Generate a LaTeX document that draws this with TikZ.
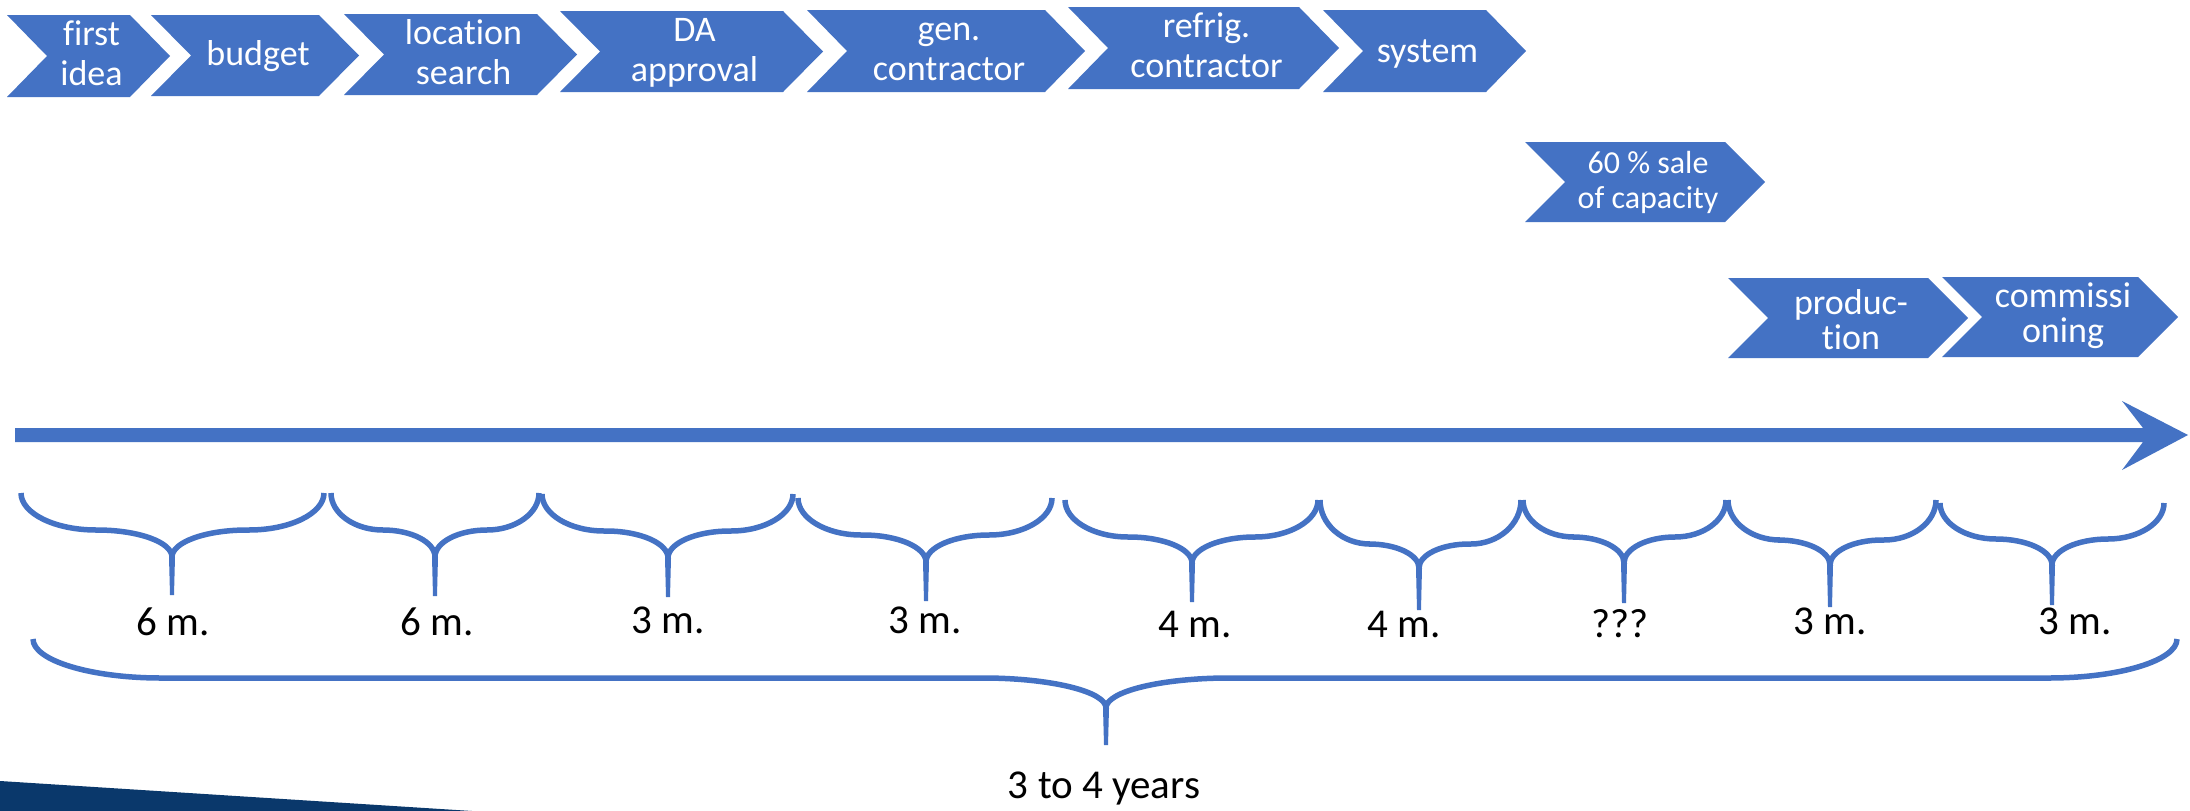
\documentclass[tikz,border=0pt]{standalone}
\usepackage{fontspec}
\setmainfont{Carlito}[Ligatures=CommonOff]
\usetikzlibrary{calc}
\definecolor{officeblue}{HTML}{4472C4}
\definecolor{deepnavy}{RGB}{10,56,107}

% Chevron step: name, left x, upper-right x, top y, bottom y, last baseline y, font style, text
\newcommand\chevronstep[8]{%
  \fill[officeblue] (#2,#4) -- (#3,#4) -- ({#3+40},{(#4+#5)/2}) -- (#3,#5) -- (#2,#5)
    -- ({#2+40},{(#4+#5)/2}) -- cycle;
  \node[steptext,#7] (#1) at ({(#2+#3+40)/2+3},#6) {#8};
}

% Curly brace opening downwards: left x, right x, tip x, end y, bar y, cusp y, tip y,
% end radius, centre radius
\newcommand\curlybrace[9]{%
  \draw[bracestyle] (#1,#4) .. controls (#1,{#4+0.55*(#5-#4)}) and ({#1+0.45*#8},#5) .. ({#1+#8},#5)
    -- ({#3-#9},#5) .. controls ({#3-0.45*#9},#5) and (#3,{#6-0.55*(#6-#5)}) .. (#3,#6)
    .. controls (#3,{#6-0.55*(#6-#5)}) and ({#3+0.45*#9},#5) .. ({#3+#9},#5)
    -- ({#2-#8},#5) .. controls ({#2-0.45*#8},#5) and (#2,{#4+0.55*(#5-#4)}) .. (#2,#4);
  \fill[officeblue] ({#3-3},#6) -- ({#3+3},#6) -- ({#3+2},#7) -- ({#3-2},#7) -- cycle;
}

\tikzset{
  steptext/.style={text=white, inner sep=0pt, anchor=base, align=center},
  rowtop/.style={font=\fontsize{36}{40}\selectfont},
  rowlow/.style={font=\fontsize{36}{35}\selectfont},
  rowsmall/.style={font=\fontsize{32}{35}\selectfont},
  bracestyle/.style={draw=officeblue, line width=5.5pt, line join=round, line cap=butt},
  duration/.style={inner sep=0pt, anchor=base, font=\fontsize{41}{49}\selectfont}
}

\begin{document}
\begin{tikzpicture}[x=1pt, y=-1pt]
  \useasboundingbox (0,0) rectangle (2190,811);
  \fill[white] (0,0) rectangle (2190,811);

  % corner band of the slide background
  \fill[deepnavy] (0,781) -- (472,811) -- (0,811) -- cycle;

  % process steps (baseline given for the last text line)
  \chevronstep{s1}{7}{130}{15}{97}{85}{rowtop}{first\\idea}
  \chevronstep{s2}{151}{319}{15}{96}{65}{rowtop}{budget}
  \chevronstep{s3}{344}{537}{14}{95}{84}{rowtop}{location\\search}
  \chevronstep{s4}{560}{783}{11}{92}{81}{rowtop}{DA\\approval}
  \chevronstep{s5}{807}{1045}{10}{92}{80}{rowtop}{gen.\\contractor}
  \chevronstep{s6}{1068}{1299}{7}{89}{77}{rowtop}{refrig.\\contractor}
  \chevronstep{s7}{1323}{1486}{10}{92}{62}{rowtop}{system}
  \chevronstep{s8}{1525}{1725}{142}{222}{208}{rowsmall}{60 \% sale\\of capacity}
  \chevronstep{s9}{1728}{1928}{278}{358}{349}{rowlow}{produc-\\tion}
  \chevronstep{s10}{1942}{2138}{277}{357}{342}{rowlow}{commissi\\oning}

  % time axis
  \coordinate (axisstart) at (15,435);
  \coordinate (axisend) at (2188,435);
  \fill[officeblue] (15,428) -- (2143,428) -- (2122,401) -- (axisend) -- (2122,470)
    -- (2143,442) -- (15,442) -- cycle;

  % phase braces
  \curlybrace{21}{324}{172}{493}{530}{557}{595}{75}{75}
  \curlybrace{331}{539}{435}{493}{530}{557}{596}{52}{52}
  \curlybrace{542}{793}{668}{494}{531}{558}{597}{62}{62}
  \curlybrace{798}{1052}{926}{498}{535}{562}{601}{63}{63}
  \curlybrace{1065}{1318}{1192}{500}{537}{563}{602}{63}{63}
  \curlybrace{1320}{1521}{1419}{500}{544}{568}{610}{50}{50}
  \curlybrace{1523}{1726}{1624}{500}{537}{563}{603}{51}{51}
  \curlybrace{1728}{1936}{1830}{500}{540}{565}{607}{52}{52}
  \curlybrace{1940}{2164}{2052}{503}{539}{565}{605}{56}{56}

  % phase durations
  \node[duration] (d1) at (173,635) {6 m.};
  \node[duration] (d2) at (437,635) {6 m.};
  \node[duration] (d3) at (668,633) {3 m.};
  \node[duration] (d4) at (925,633) {3 m.};
  \node[duration] (d5) at (1195,637) {4 m.};
  \node[duration] (d6) at (1404,637) {4 m.};
  \node[duration] (d7) at (1620,637) {???};
  \node[duration] (d8) at (1830,634) {3 m.};
  \node[duration] (d9) at (2075,634) {3 m.};

  % overall brace and total
  \curlybrace{33}{2177}{1106}{639}{678}{708}{745}{128}{123}
  \node[duration] (total) at (1104,798) {3 to 4 years};
\end{tikzpicture}
\end{document}
